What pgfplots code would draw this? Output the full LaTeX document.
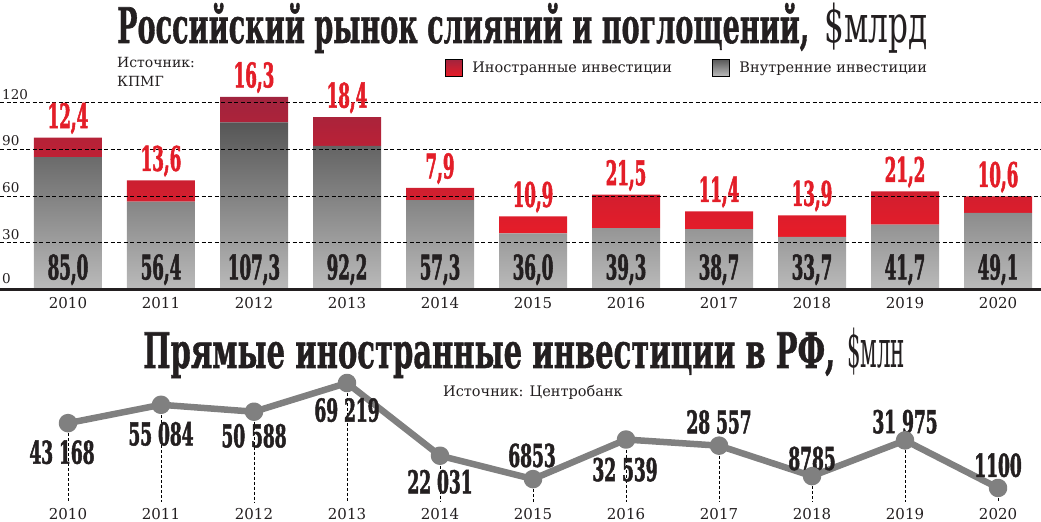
\documentclass[border=0pt]{standalone}
\usepackage{fontspec}
\setmainfont{DejaVu Serif}
\newfontfamily\numfont[FakeStretch=0.49,FakeBold=1.5]{DejaVu Serif}
\newfontfamily\numfontb[FakeStretch=0.54,FakeBold=1.5]{DejaVu Serif}
\newfontfamily\titlefont[FakeBold=1.2]{DejaVu Serif}
\usepackage{graphicx}
\usepackage{pgfplots}
\pgfplotsset{compat=1.18}
\definecolor{ink}{RGB}{35,31,32}
\definecolor{redtxt}{RGB}{227,30,40}
\definecolor{redtop}{RGB}{160,36,62}
\definecolor{redbot}{RGB}{232,28,40}
\definecolor{graytop}{RGB}{86,86,86}
\definecolor{graybot}{RGB}{186,186,186}
\definecolor{linegray}{RGB}{128,128,128}
\newcommand{\bignum}{\numfont\fontsize{34bp}{34bp}\selectfont\bfseries}
\newcommand{\midnum}{\numfontb\fontsize{31.5bp}{31.5bp}\selectfont\bfseries}
\tikzset{
  blk/.style={anchor=base, inner sep=0pt, yshift=10bp, text=ink, font=\bignum},
  rlab/.style={anchor=base, inner sep=0pt, yshift=9.5bp, text=redtxt, font=\bignum},
  lab/.style={inner sep=0pt, text depth=0pt, text=ink, font=\midnum},
}
\pgfplotsset{
  topframe/.style={
    at={(0bp,232.5bp)}, anchor=south west, scale only axis,
    width=1041bp, height=187bp,
    xmin=-0.731, xmax=10.462, ymin=0, ymax=120,
    clip=false,
  },
}
\begin{document}
\begin{tikzpicture}[x=1bp,y=1bp]
\path[use as bounding box] (0,0) rectangle (1041,522);
% titles
\node[anchor=base west, inner sep=0pt, text=ink] at (117,479)
  {\resizebox{692bp}{\height}{\titlefont\fontsize{49bp}{49bp}\selectfont\bfseries Российский рынок слияний и поглощений,}};
\node[anchor=base west, inner sep=0pt, text=ink] at (824,479)
  {\resizebox{103bp}{\height}{\fontsize{52bp}{52bp}\selectfont\$млрд}};
\node[anchor=base west, inner sep=0pt, text=ink, font=\fontsize{14bp}{14bp}\selectfont] at (117,454) {Источник:};
\node[anchor=base west, inner sep=0pt, text=ink, font=\fontsize{14bp}{14bp}\selectfont] at (117,435) {КПМГ};
\node[anchor=base west, inner sep=0pt, text=ink] at (143,154)
  {\resizebox{692bp}{\height}{\titlefont\fontsize{49bp}{49bp}\selectfont\bfseries Прямые иностранные инвестиции в РФ,}};
\node[anchor=base west, inner sep=0pt, text=ink] at (847,154)
  {\resizebox{58bp}{\height}{\fontsize{52bp}{52bp}\selectfont\$млн}};
\node[anchor=base west, inner sep=0pt, text=ink, font=\fontsize{14.5bp}{14.5bp}\selectfont] at (443,125) {Источник: Центробанк};

% ---------- top chart: bars ----------
\begin{axis}[topframe, hide axis, ybar stacked, bar width=68bp]
\addplot[draw=none, top color=graytop, bottom color=graybot]
  coordinates {(0,85.0) (1,56.4) (2,107.3) (3,92.2) (4,57.3) (5,36.0) (6,39.3) (7,38.7) (8,33.7) (9,41.7) (10,49.1)};
\addplot[draw=none, top color=redtop, bottom color=redbot]
  coordinates {(0,12.4) (1,13.6) (2,16.3) (3,18.4) (4,7.9) (5,10.9) (6,21.5) (7,11.4) (8,13.9) (9,21.2) (10,10.6)};
\end{axis}

% ---------- top chart: grid, labels, legend (overlay) ----------
\begin{axis}[topframe,
  axis line style={draw=none},
  major tick length=0pt,
  xtick={0,...,10},
  xticklabels={2010,2011,2012,2013,2014,2015,2016,2017,2018,2019,2020},
  ytick={30,60,90,120},
  ymajorgrids,
  major grid style={black, line width=0.7bp, dash pattern=on 4bp off 2.5bp},
  extra y ticks={0},
  extra y tick style={grid=major, major grid style={solid, draw=ink, line width=3.5bp}, yticklabel style={yshift=2.5bp}},
  /pgf/number format/assume math mode=true,
  yticklabel style={anchor=south west, inner sep=0pt, xshift=2bp, yshift=3bp, text=ink, font=\fontsize{13.5bp}{13.5bp}\selectfont},
  xticklabel style={anchor=north, inner sep=0pt, yshift=-7.5bp, text=ink, font=\fontsize{15bp}{15bp}\selectfont},
  legend columns=2,
  legend style={at={(0.4274,1.187)}, anchor=west, draw=none, fill=none, inner sep=0pt, outer sep=0pt,
    font=\fontsize{14.5bp}{14.5bp}\selectfont, text=ink,
    nodes={inner sep=0pt},
    /tikz/every odd column/.append style={column sep=10bp},
    /tikz/every even column/.append style={column sep=40bp}},
]
\addlegendimage{legend image code/.code={\shade[top color=redtop,bottom color=redbot] (0bp,-8.5bp) rectangle (17bp,8.5bp);}}
\addlegendentry{Иностранные инвестиции}
\addlegendimage{legend image code/.code={\shade[top color=graytop,bottom color=graybot] (0bp,-8.5bp) rectangle (17bp,8.5bp);}}
\addlegendentry{Внутренние инвестиции}
\node[blk] at (axis cs:0,0) {85,0};
\node[blk] at (axis cs:1,0) {56,4};
\node[blk] at (axis cs:2,0) {107,3};
\node[blk] at (axis cs:3,0) {92,2};
\node[blk] at (axis cs:4,0) {57,3};
\node[blk] at (axis cs:5,0) {36,0};
\node[blk] at (axis cs:6,0) {39,3};
\node[blk] at (axis cs:7,0) {38,7};
\node[blk] at (axis cs:8,0) {33,7};
\node[blk] at (axis cs:9,0) {41,7};
\node[blk] at (axis cs:10,0) {49,1};
\node[rlab] at (axis cs:0,97.4) {12,4};
\node[rlab] at (axis cs:1,70.0) {13,6};
\node[rlab] at (axis cs:2,123.6) {16,3};
\node[rlab] at (axis cs:3,110.6) {18,4};
\node[rlab] at (axis cs:4,65.2) {7,9};
\node[rlab] at (axis cs:5,46.9) {10,9};
\node[rlab] at (axis cs:6,60.8) {21,5};
\node[rlab] at (axis cs:7,50.1) {11,4};
\node[rlab] at (axis cs:8,47.6) {13,9};
\node[rlab] at (axis cs:9,62.9) {21,2};
\node[rlab] at (axis cs:10,59.7) {10,6};
\end{axis}

% ---------- bottom chart ----------
\begin{axis}[
  at={(0bp,20bp)}, anchor=south west, scale only axis,
  width=1041bp, height=120.2bp,
  xmin=-0.731, xmax=10.462, ymin=-8000, ymax=70000,
  clip=false,
  axis line style={draw=none},
  major tick length=0pt,
  ytick=\empty,
  xtick={0,...,10},
  xticklabels={2010,2011,2012,2013,2014,2015,2016,2017,2018,2019,2020},
  xticklabel style={anchor=north, inner sep=0pt, yshift=-6bp, text=ink, font=\fontsize{15bp}{15bp}\selectfont},
]
\addplot[only marks, mark=none,
  error bars/.cd, y dir=minus, y explicit, error mark=none,
  error bar style={draw=black, solid, line width=0.6bp, dash pattern=on 3bp off 2bp}]
  table[x=x, y=y, y error minus=e] {
x y e
0 43168 51168
1 55084 63084
2 50588 58588
3 69219 77219
4 22031 30031
5 6853 14853
6 32539 40539
7 28557 36557
8 8785 16785
9 31975 39975
10 1100 9100
};
\addplot[linegray, line width=6.5bp, line join=round, mark=*, mark size=6bp, mark options={fill=linegray, draw=none}]
  coordinates {(0,43168) (1,55084) (2,50588) (3,69219) (4,22031) (5,6853) (6,32539) (7,28557) (8,8785) (9,31975) (10,1100)};
\node[lab, anchor=north, xshift=-6bp, yshift=-17bp] at (axis cs:0,43168) {43 168};
\node[lab, anchor=north, yshift=-17bp] at (axis cs:1,55084) {55 084};
\node[lab, anchor=north, yshift=-12bp] at (axis cs:2,50588) {50 588};
\node[lab, anchor=north, yshift=-15bp] at (axis cs:3,69219) {69 219};
\node[lab, anchor=north, yshift=-14bp] at (axis cs:4,22031) {22 031};
\node[lab, anchor=south, xshift=-1bp, yshift=12bp] at (axis cs:5,6853) {6853};
\node[lab, anchor=north, xshift=-1bp, yshift=-18bp] at (axis cs:6,32539) {32 539};
\node[lab, anchor=south, yshift=12bp] at (axis cs:7,28557) {28 557};
\node[lab, anchor=south, yshift=6bp] at (axis cs:8,8785) {8785};
\node[lab, anchor=south, yshift=7bp] at (axis cs:9,31975) {31 975};
\node[lab, anchor=south, yshift=11bp] at (axis cs:10,1100) {1100};
\end{axis}
\end{tikzpicture}
\end{document}
